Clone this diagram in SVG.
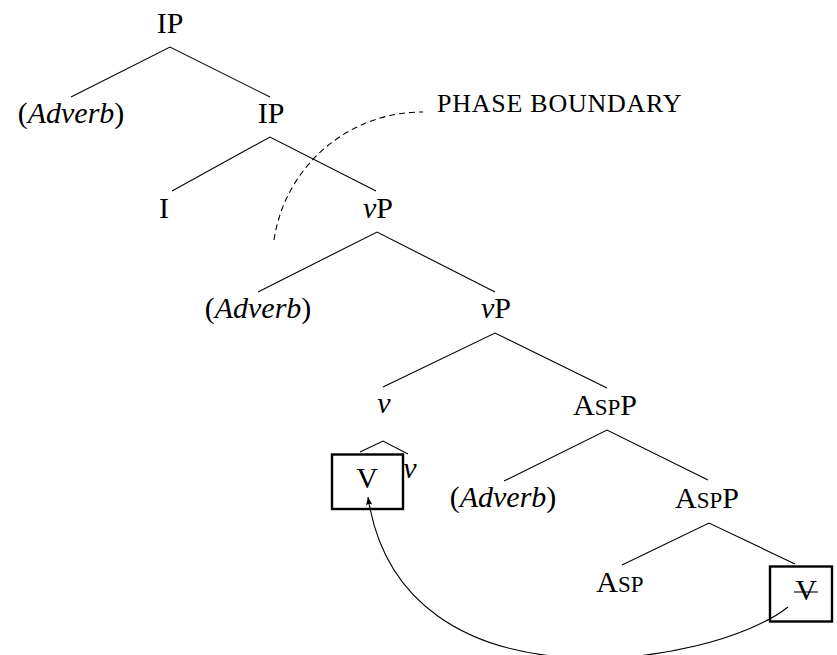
<svg xmlns="http://www.w3.org/2000/svg" width="837" height="655" viewBox="0 0 837 655">
<style>
text{font-family:"Liberation Serif","Times New Roman",serif;font-size:30px;fill:#000;text-anchor:middle}
.it{font-style:italic}
.sc{font-size:23px}
.edge{stroke:#000;stroke-width:1.1;fill:none}
.dash{stroke:#000;stroke-width:1.1;fill:none;stroke-dasharray:6 4}
.box{fill:none;stroke:#000;stroke-width:2.4}
.lbl{font-size:26px;text-anchor:start;letter-spacing:0.75px}
</style>
<defs>
<marker id="ah" markerWidth="10" markerHeight="10" refX="0" refY="0" viewBox="-9 -5 10 10" orient="auto" markerUnits="userSpaceOnUse">
<path d="M0,0 L-8,-3.2 Q-5.5,0 -8,3.2 Z" fill="#000"/>
</marker>
</defs>
<g id="connectors">
<path class="edge" d="M71 97 L170 47 L270 97"/>
<path class="edge" d="M172 191 L270 137 L376 191"/>
<path class="edge" d="M258 292 L377 232 L495 292"/>
<path class="edge" d="M383 387 L495 333 L607 388"/>
<path class="edge" d="M360 452 L383 441 L408 454"/>
<path class="edge" d="M504 481 L607 430 L708 480"/>
<path class="edge" d="M622 565 L709 523 L795 564"/>
<path class="dash" d="M274 240 A150 150 0 0 1 423 112"/>
<path class="edge" d="M788 607 C713 667 401 717 368 497" marker-end="url(#ah)"/>
</g>
<g id="n-ip1"><text x="170" y="33">IP</text></g>
<g id="n-adv1"><text x="71" y="123">(<tspan class="it">Adverb</tspan>)</text></g>
<g id="n-ip2"><text x="271" y="123">IP</text></g>
<g id="n-phase"><text class="lbl" x="437" y="112">PHASE BOUNDARY</text></g>
<g id="n-i"><text x="164" y="218">I</text></g>
<g id="n-vp1"><text x="378" y="218"><tspan class="it">v</tspan>P</text></g>
<g id="n-adv2"><text x="258" y="318">(<tspan class="it">Adverb</tspan>)</text></g>
<g id="n-vp2"><text x="496" y="318"><tspan class="it">v</tspan>P</text></g>
<g id="n-v"><text class="it" x="384" y="413">v</text></g>
<g id="n-aspp1"><text x="605" y="415">A<tspan class="sc">SP</tspan>P</text></g>
<g id="n-vbox"><rect class="box" x="332" y="454.5" width="71" height="54.5"/><text x="367" y="488">V</text></g>
<g id="n-vsmall"><text class="it" x="410" y="478">v</text></g>
<g id="n-adv3"><text x="503" y="507">(<tspan class="it">Adverb</tspan>)</text></g>
<g id="n-aspp2"><text x="707" y="508">A<tspan class="sc">SP</tspan>P</text></g>
<g id="n-asp"><text x="620" y="592">A<tspan class="sc">SP</tspan></text></g>
<g id="n-vtrace"><rect class="box" x="770" y="566.5" width="62" height="55"/><text x="806" y="600">V</text><line class="edge" x1="794" y1="592" x2="818" y2="592"/></g>
</svg>
